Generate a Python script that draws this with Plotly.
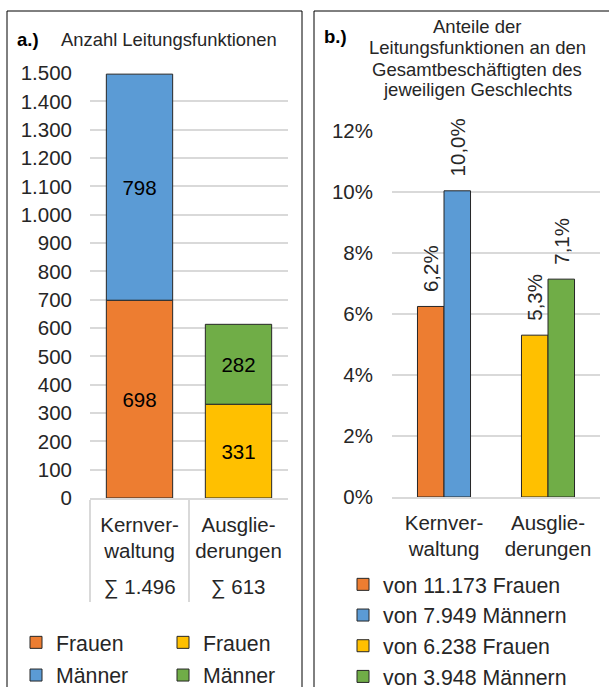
import plotly.graph_objects as go

W, H = 609, 687

# ---------------- data ----------------
categories = ["Kernver-<br>waltung", "Ausglie-<br>derungen"]
leit_frauen = [698, 331]          # Leitungsfunktionen Frauen
leit_maenner = [798, 282]         # Leitungsfunktionen Männer
gesamt_frauen = [11173, 6238]     # Gesamtbeschäftigte Frauen
gesamt_maenner = [7949, 3948]     # Gesamtbeschäftigte Männer

col_frauen = ["#ED7D31", "#FFC000"]
col_maenner = ["#5B9BD5", "#70AD47"]

left_ticks = list(range(0, 1600, 100))
right_ticks = [0, 0.02, 0.04, 0.06, 0.08, 0.10, 0.12]

title_b_lines = ["Anteile der", "Leitungsfunktionen an den",
                 "Gesamtbeschäftigten des", "jeweiligen Geschlechts"]


def de_num(n):
    return f"{n:,}".replace(",", ".")


def px(x):
    return x / W


def py(y):
    return 1 - y / H


TXT = "#262626"
FONT = "Liberation Sans, Arial, sans-serif"
GRID = "#d9d9d9"
OUT = "#262626"

fig = go.Figure()

# ---------------- panel a: stacked counts ----------------
for i, cat in enumerate(categories):
    legend_name = "legend" if i == 0 else "legend3"
    fig.add_trace(go.Bar(
        x=[cat], y=[leit_frauen[i]], base=[0], width=0.67,
        marker=dict(color=col_frauen[i], line=dict(color=OUT, width=1)),
        text=[str(leit_frauen[i])], textposition="inside", insidetextanchor="middle",
        textfont=dict(size=20.5, color="#000000", family=FONT),
        name="Frauen", legend=legend_name, legendgroup=f"a{i}f",
        xaxis="x", yaxis="y", hoverinfo="skip"))
    fig.add_trace(go.Bar(
        x=[cat], y=[leit_maenner[i]], base=[leit_frauen[i]], width=0.67,
        marker=dict(color=col_maenner[i], line=dict(color=OUT, width=1)),
        text=[str(leit_maenner[i])], textposition="inside", insidetextanchor="middle",
        textfont=dict(size=20.5, color="#000000", family=FONT),
        name="Männer", legend=legend_name, legendgroup=f"a{i}m",
        xaxis="x", yaxis="y", hoverinfo="skip"))

# ---------------- panel b: shares ----------------
bw = 0.255
for i, cat in enumerate(categories):
    share_f = leit_frauen[i] / gesamt_frauen[i]
    share_m = leit_maenner[i] / gesamt_maenner[i]
    fig.add_trace(go.Bar(
        x=[cat], y=[share_f], width=bw, offset=-bw,
        marker=dict(color=col_frauen[i], line=dict(color=OUT, width=1)),
        texttemplate="\u00a0\u00a0%{y:.1%}", textposition="outside", textangle=-90,
        constraintext="none",
        textfont=dict(size=20.5, color=TXT, family=FONT), cliponaxis=False,
        name=f"von {de_num(gesamt_frauen[i])} Frauen", legend="legend2",
        legendgroup=f"b{i}f", xaxis="x2", yaxis="y2", hoverinfo="skip"))
    fig.add_trace(go.Bar(
        x=[cat], y=[share_m], width=bw, offset=0,
        marker=dict(color=col_maenner[i], line=dict(color=OUT, width=1)),
        texttemplate="\u00a0\u00a0%{y:.1%}", textposition="outside", textangle=-90,
        constraintext="none",
        textfont=dict(size=20.5, color=TXT, family=FONT), cliponaxis=False,
        name=f"von {de_num(gesamt_maenner[i])} Männern", legend="legend2",
        legendgroup=f"b{i}m", xaxis="x2", yaxis="y2", hoverinfo="skip"))

# sums below category labels (panel a)
annotations = []
for i, cat in enumerate(categories):
    total = leit_frauen[i] + leit_maenner[i]
    annotations.append(dict(
        x=cat, xref="x", y=py(587), yref="paper", text=f"∑ {de_num(total)}",
        showarrow=False, font=dict(size=20.5, color=TXT, family=FONT),
        xanchor="center", yanchor="middle"))

annotations += [
    dict(x=px(15), y=py(39), xref="paper", yref="paper", text="<b>a.)</b>",
    showarrow=False, xanchor="left", yanchor="middle",
    font=dict(size=18.5, color="#000000", family=FONT)),
    dict(x=px(59), y=py(39), xref="paper", yref="paper", text="Anzahl Leitungsfunktionen",
    showarrow=False, xanchor="left", yanchor="middle",
    font=dict(size=18.4, color=TXT, family=FONT)),
    dict(x=px(322), y=py(36), xref="paper", yref="paper", text="<b>b.)</b>",
    showarrow=False, xanchor="left", yanchor="middle",
    font=dict(size=18.5, color="#000000", family=FONT)),
]
for k, line in enumerate(title_b_lines):
    annotations.append(dict(
        x=px(477), y=py(27 + 21 * k), xref="paper", yref="paper", text=line,
        showarrow=False, xanchor="center", yanchor="middle",
        font=dict(size=18.5, color=TXT, family=FONT)))

shapes = [
    dict(type="rect", xref="paper", yref="paper", x0=px(7), x1=px(302), y0=-0.05, y1=py(11),
         line=dict(color="#000000", width=1), fillcolor="rgba(0,0,0,0)", layer="above"),
    dict(type="rect", xref="paper", yref="paper", x0=px(314), x1=1.05, y0=-0.05, y1=py(11),
         line=dict(color="#000000", width=1), fillcolor="rgba(0,0,0,0)", layer="above"),
]

legend_common = dict(
    bgcolor="rgba(0,0,0,0)", borderwidth=0, orientation="v",
    traceorder="grouped",
    font=dict(size=21.3, color=TXT, family=FONT),
    xanchor="left", yanchor="top", itemwidth=30,
)

fig.update_layout(
    width=W, height=H, margin=dict(l=0, r=0, t=0, b=0, autoexpand=False),
    paper_bgcolor="white", plot_bgcolor="white",
    barmode="overlay", separators=",.",
    font=dict(family=FONT, color=TXT, size=20),
    xaxis=dict(domain=[px(90), px(288)], type="category", range=[-0.5, 1.5],
               showgrid=False, showline=True, linecolor=GRID, linewidth=2,
               ticks="outside", tickson="boundaries", ticklen=102, tickwidth=2,
               tickcolor=GRID, ticklabelstandoff=7,
               tickfont=dict(size=20.5, color=TXT, family=FONT), anchor="y"),
    yaxis=dict(domain=[py(498), py(73)], range=[0, 1500], tickvals=left_ticks,
               tickformat=",d", showgrid=True, gridcolor=GRID, gridwidth=2,
               zeroline=False, showline=False, ticklabelstandoff=17,
               tickfont=dict(size=20.5, color=TXT, family=FONT), anchor="x"),
    xaxis2=dict(domain=[px(392), px(600)], type="category", range=[-0.5, 1.5],
                showgrid=False, showline=True, linecolor=GRID, linewidth=2,
                ticks="", ticklabelstandoff=6,
                tickfont=dict(size=20.5, color=TXT, family=FONT), anchor="y2"),
    yaxis2=dict(domain=[py(497), py(131)], range=[0, 0.12], tickvals=right_ticks,
                tickformat=".0%", showgrid=True, gridcolor=GRID, gridwidth=2,
                zeroline=False, showline=False, ticklabelstandoff=18,
                tickfont=dict(size=20.5, color=TXT, family=FONT), anchor="x2"),
    legend=dict(x=px(16), y=py(622), tracegroupgap=2, **legend_common),
    legend3=dict(x=px(163), y=py(622), tracegroupgap=2, **legend_common),
    legend2=dict(x=px(343), y=py(564), tracegroupgap=0, **legend_common),
    annotations=annotations, shapes=shapes, showlegend=True,
)

fig.write_html("out.html", config={"displayModeBar": False},
               post_script="document.body.style.margin='0';document.body.style.overflow='hidden';")
